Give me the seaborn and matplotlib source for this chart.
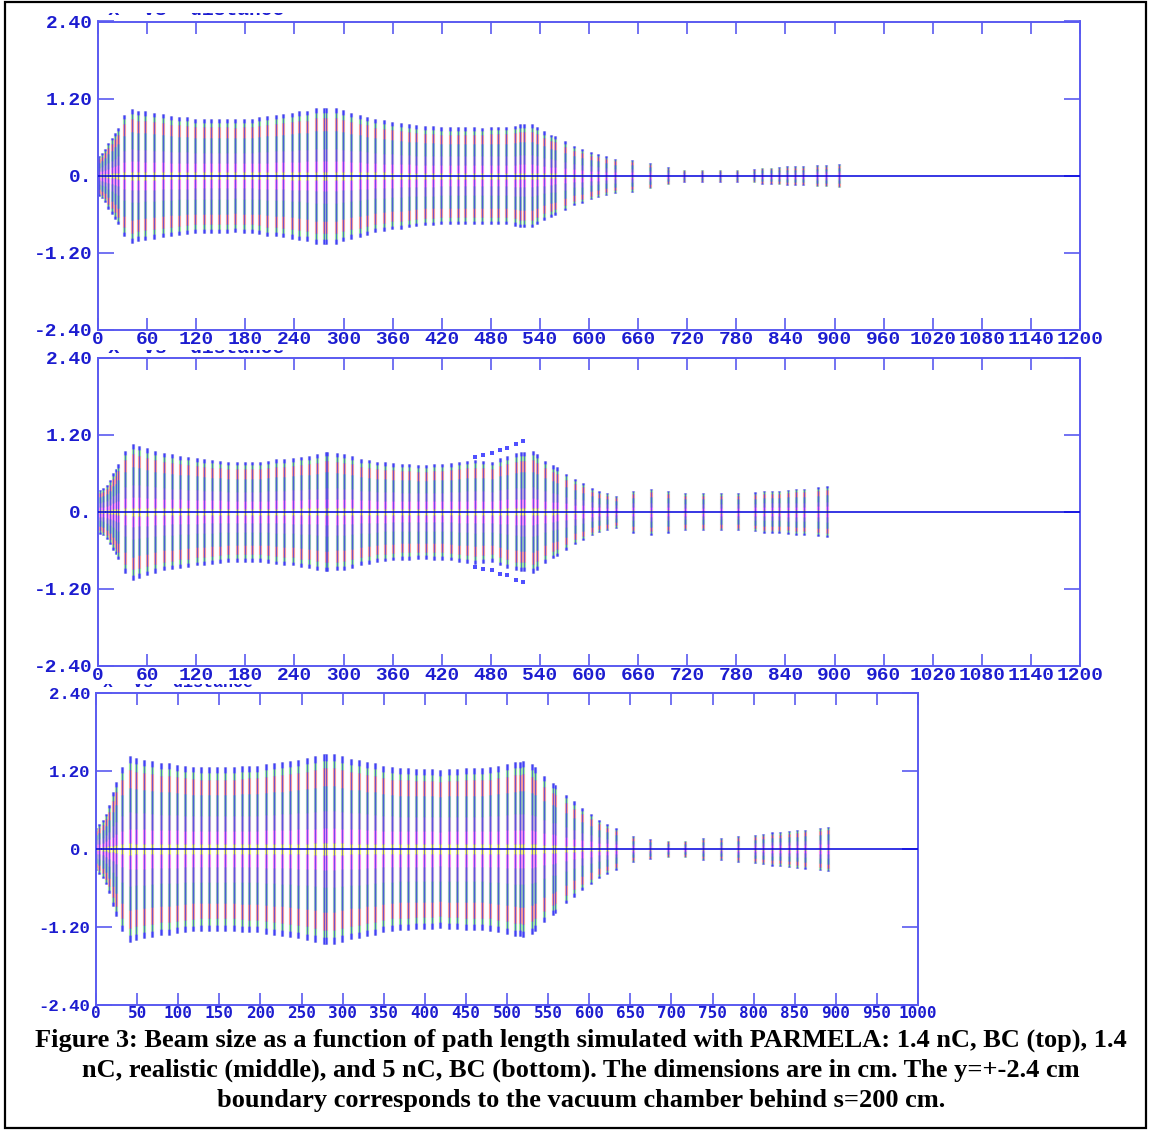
import numpy as np
import matplotlib
matplotlib.use("Agg")
import matplotlib.pyplot as plt
import seaborn as sns
from matplotlib.transforms import Bbox
from matplotlib.patches import Rectangle

sns.set_theme(style="white")

# ---- data: beam envelope (half size, cm) vs path length s (cm) ----
# top panel: 1.4 nC, BC
top_s = [0.8, 4.5, 8.6, 12.6, 16.7, 20.8, 24.8,
         32, 41.5, 48.5, 58, 69, 79, 89, 99, 109, 119, 129, 138, 148, 158,
         168, 178, 188, 197, 207, 217, 226, 237, 246, 256, 267, 276.5, 278.6,
         290.5, 299, 309, 320, 329, 339, 350,
         359, 370, 380, 389, 400, 409, 419, 430, 440, 449, 460, 469, 480,
         489, 499, 510, 516, 520, 530, 536, 545, 554, 559, 571, 582, 591,
         602, 611, 621, 632, 653, 674, 696, 716, 738, 760, 781, 802, 812,
         822, 832, 842, 852, 862, 879, 890, 905]
top_h = [0.31, 0.35, 0.41, 0.51, 0.59, 0.67, 0.75,
         0.945, 1.04, 1.01, 1.00, 0.98, 0.96, 0.935, 0.92, 0.91, 0.89, 0.89,
         0.89, 0.89, 0.89, 0.88, 0.89, 0.89, 0.91, 0.935, 0.945, 0.96, 0.98,
         1.00, 1.01, 1.055, 1.055, 1.055, 1.055, 1.02, 0.98, 0.95, 0.92,
         0.88, 0.86,
         0.836, 0.821, 0.805, 0.784, 0.769, 0.769, 0.754, 0.754, 0.754,
         0.754, 0.754, 0.75, 0.758, 0.758, 0.758, 0.779, 0.805, 0.805, 0.805,
         0.758, 0.69, 0.64, 0.613, 0.535, 0.457, 0.42, 0.369, 0.338, 0.30,
         0.265, 0.249, 0.197, 0.13, 0.094, 0.094, 0.094, 0.094, 0.104, 0.125,
         0.125, 0.13, 0.145, 0.145, 0.145, 0.166, 0.166, 0.18]

# middle panel: 1.4 nC, realistic
mid_s = [2.4, 6.5, 10.6, 14.7, 18.7, 22, 24.8,
         33, 42.8, 50.1, 59.7, 70.1, 80.7, 90.5, 100.2, 110, 120.6, 129.9,
         139.7, 149.1, 159.2, 169.5, 179.6, 188.5, 198, 208.1, 217.5, 227.6,
         237.9, 248, 257.8, 268, 278.2, 280.2, 291.7, 301, 310.7, 321, 330.8,
         340.5, 351.1, 360.8, 371.1, 380.3, 390.6, 400.7, 410.5, 420.6,
         430.9, 441, 450.5, 460.6,
         470.1, 481.1, 491.3, 500.2, 510.8, 517, 521, 531.2, 536.8, 546.3,
         555.7, 560.6, 572, 583, 592.3, 603.3, 612.6, 622, 633, 653.4, 675.4,
         696.9, 717.3, 738.9, 760.9, 782.4, 802.8, 813.8, 823.2, 832.5,
         843.5, 852.9, 862.7, 880.2, 890.5]
mid_h = [0.34, 0.37, 0.42, 0.50, 0.60, 0.66, 0.74,
         0.951, 1.06, 1.029, 0.992, 0.951, 0.914, 0.899, 0.873, 0.862, 0.836,
         0.826, 0.81, 0.80, 0.784, 0.784, 0.784, 0.784, 0.784, 0.795, 0.821,
         0.826, 0.836, 0.862, 0.873, 0.904, 0.93, 0.93, 0.914, 0.904, 0.873,
         0.826, 0.81, 0.784, 0.769, 0.758, 0.748, 0.748, 0.732, 0.732, 0.748,
         0.748, 0.758, 0.784, 0.795, 0.81,
         0.795, 0.784, 0.836, 0.873, 0.914, 0.93, 0.93, 0.951, 0.904, 0.795,
         0.722, 0.691, 0.592, 0.509, 0.447, 0.369, 0.317, 0.291, 0.249,
         0.327, 0.358, 0.327, 0.291, 0.291, 0.291, 0.291, 0.306, 0.327,
         0.327, 0.327, 0.343, 0.358, 0.358, 0.379, 0.395]
# scattered outer particles in the middle panel
halo_s = [460.6, 470.1, 481.1, 491.3, 500.2, 510.8, 519]
halo_h = [0.86, 0.89, 0.91, 0.97, 0.99, 1.06, 1.10]

# bottom panel: 5 nC, BC
bot_s = [0, 4, 8.1, 12.2, 16.2, 20.3, 24.3,
         32, 41.4, 48.3, 58, 68.1, 79.4, 88.8, 98.9, 108.2, 117.9, 128,
         137.4, 147.2, 157.3, 167.5, 178, 186.5, 196.2, 206.4, 216.5, 226.6,
         236, 246.1, 256.3, 266.4, 277.4, 279.4, 289.5, 299.6, 309.7, 319.9,
         330, 339.4,
         348.8, 359.7, 369.8, 379.6, 389.3, 398.7, 409.1, 418.9, 429.4,
         439.6, 450.1, 459.9, 469.2, 479.3, 489.4, 499.6, 509.7, 515.8,
         519.8, 530, 534.1, 545, 555.6, 558.4, 571.8, 581.5, 591.2, 601.8,
         611.6, 622.1, 632.3, 653.7, 674, 695.5, 717, 738.1, 760, 781.5,
         801.8, 811.9, 822.1, 832.5, 843.5, 852.9, 862.7, 880.2, 890.5]
bot_h = [0.33, 0.38, 0.44, 0.54, 0.67, 0.87, 1.03,
         1.256, 1.426, 1.40, 1.369, 1.349, 1.323, 1.318, 1.297, 1.282, 1.267,
         1.256, 1.256, 1.256, 1.256, 1.256, 1.272, 1.282, 1.282, 1.308,
         1.318, 1.333, 1.349, 1.369, 1.40, 1.426, 1.462, 1.462, 1.462, 1.426,
         1.385, 1.369, 1.333, 1.318,
         1.282, 1.256, 1.241, 1.241, 1.231, 1.231, 1.231, 1.215, 1.231,
         1.231, 1.241, 1.246, 1.241, 1.256, 1.282, 1.308, 1.333, 1.344,
         1.349, 1.308, 1.256, 1.118, 1.015, 0.985, 0.836, 0.733, 0.626,
         0.538, 0.451, 0.385, 0.318, 0.195, 0.154, 0.128, 0.128, 0.164,
         0.164, 0.195, 0.215, 0.231, 0.256, 0.26, 0.28, 0.29, 0.30, 0.33, 0.34]

# axis ticks / labels
y_ticks = [-2.4, -1.2, 0, 1.2, 2.4]
y_labels = ["-2.40", "-1.20", "0.", "1.20", "2.40"]
x_ticks_1200 = list(range(0, 1201, 60))
x_ticks_1000 = list(range(0, 1001, 50))

caption = ["Figure 3: Beam size as a function of path length simulated with PARMELA: 1.4 nC, BC (top), 1.4",
           "nC, realistic (middle), and 5 nC, BC (bottom). The dimensions are in cm. The y=+-2.4 cm",
           "boundary corresponds to the vacuum chamber behind s=200 cm."]

SPINE = "#5a5af0"
LABEL = "#1c1cd0"
# colour bands of the particle strips (fraction of envelope -> colour)
BANDS = [(0.00, 1.00, "#a8abc8"),
         (0.93, 1.00, "#7a7af8"),
         (0.85, 0.93, "#9fe89f"),
         (0.66, 0.85, "#f09c9c"),
         (0.40, 0.66, "#8fb7bd"),
         (0.22, 0.40, "#b5a3d6"),
         (0.06, 0.22, "#f08cf0"),
         (0.00, 0.06, "#f4ef70")]

W, H = 1151, 1130
fig = plt.figure(figsize=(W / 100, H / 100), dpi=100)


def px_axes(left, top, right, bottom):
    return fig.add_axes([left / W, 1 - bottom / H, (right - left) / W, (bottom - top) / H])


def draw_beam(ax, s, h):
    s = np.asarray(s)
    h = np.asarray(h)
    for f0, f1, c in BANDS:
        ax.vlines(s, f0 * h, f1 * h, color=c, lw=2.2)
        ax.vlines(s, -f1 * h, -f0 * h, color=c, lw=2.2)
    ax.vlines(s, -h, h, color="#1414f0", lw=0.5, alpha=0.8)


def style_axes(ax, xmax, xticks, xfont, xsize, yfont, ysize):
    ax.set_xlim(0, xmax)
    ax.set_ylim(-2.4, 2.4)
    ax.set_facecolor("white")
    ax.set_xticks(xticks, [str(t) for t in xticks], fontfamily=xfont,
                  fontweight="bold", fontsize=xsize, color=LABEL)
    ax.set_yticks(y_ticks, y_labels, fontfamily=yfont, fontweight="bold",
                  fontsize=ysize, color=LABEL)
    for sp in ax.spines.values():
        sp.set_visible(True)
        sp.set_color(SPINE)
        sp.set_linewidth(1.4)
    ax.tick_params(axis="x", direction="in", top=True, bottom=True,
                   length=8.5, width=1.2, color=SPINE, pad=1)
    ax.tick_params(axis="y", direction="in", left=True, right=True,
                   length=11.5, width=1.2, color=SPINE, pad=4)
    ax.axhline(0, color="#0000dd", lw=1.1, zorder=5)
    ax.grid(False)


def clipped_title(x, y_base, y_cut, size):
    # panel title, mostly hidden under the panel above (only its foot shows)
    t = fig.text(x / W, 1 - y_base / H, "x  vs  distance", fontfamily="Liberation Mono",
                 fontweight="bold", fontsize=size, color=LABEL, va="baseline")
    t.set_clip_box(Bbox.from_extents(0, H - y_base - 5, W, H - y_cut))
    t.set_clip_on(True)


ax1 = px_axes(98, 21.5, 1080, 330)
draw_beam(ax1, top_s, top_h)
style_axes(ax1, 1200, x_ticks_1200, "Liberation Mono", 14, "Liberation Mono", 14)

ax2 = px_axes(98, 358, 1080, 665.5)
draw_beam(ax2, mid_s, mid_h)
sns.scatterplot(x=halo_s + halo_s, y=halo_h + [-v for v in halo_h], ax=ax2,
                color="#5050ff", marker="s", s=5, linewidth=0, legend=False)
style_axes(ax2, 1200, x_ticks_1200, "Liberation Mono", 14, "Liberation Mono", 14)

ax3 = px_axes(96, 693, 918, 1005)
draw_beam(ax3, bot_s, bot_h)
style_axes(ax3, 1000, x_ticks_1000, "DejaVu Sans Mono", 11.5, "Liberation Mono", 12.5)

clipped_title(108, 15, 12.5, 14)
clipped_title(108, 353, 350, 14)
clipped_title(103, 687, 684, 12)

for i, line in enumerate(caption):
    fig.text(581 / W, 1 - (1040 + 30 * i) / H, line, ha="center", va="center",
             fontfamily="Liberation Serif", fontweight="bold", fontsize=19, color="black")

fig.patches.append(Rectangle((5 / W, 2 / H), (1146 - 5) / W, (1128 - 2) / H,
                             transform=fig.transFigure, fill=False,
                             edgecolor="black", lw=1.6))

fig.savefig("out.png", dpi=100)
